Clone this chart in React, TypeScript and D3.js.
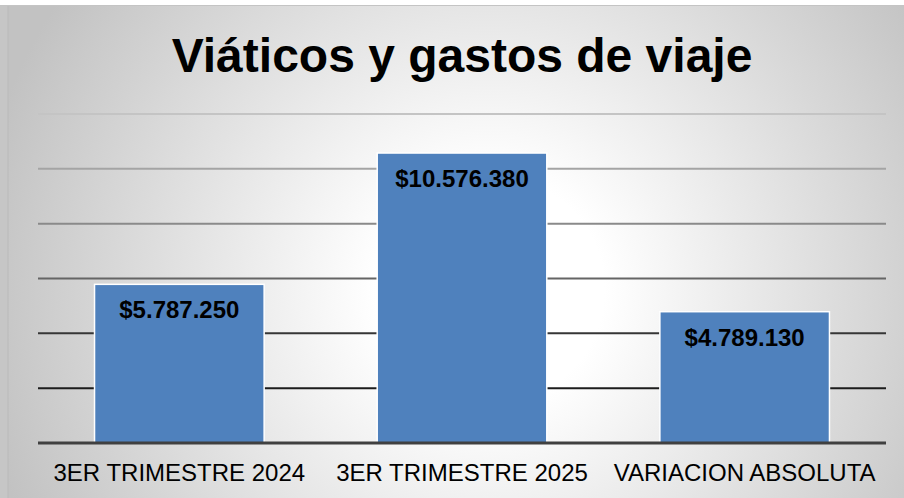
import React from "react";
import * as d3 from "d3";

// chart data
const categories = ["3ER TRIMESTRE 2024", "3ER TRIMESTRE 2025", "VARIACION ABSOLUTA"];
const values = [5787250, 10576380, 4789130];
const valueLabels = ["$5.787.250", "$10.576.380", "$4.789.130"];
const gridTicks = [2000000, 4000000, 6000000, 8000000, 10000000, 12000000];
const gridColors = ["#1c1c1c", "#363636", "#656565", "#8a8a8a", "#a4a4a4", "#c4c4c4"];

const W = 904;
const H = 498;
const plot = { left: 38, right: 886, top: 114, bottom: 443 };

export default function App() {
  const x = d3
    .scaleBand<string>()
    .domain(categories)
    .range([plot.left, plot.right])
    .paddingInner(0.4)
    .paddingOuter(0.2);
  const y = d3.scaleLinear().domain([0, 12000000]).range([plot.bottom, plot.top]);

  return (
    <svg
      width={W}
      height={H}
      style={{ position: "absolute", left: 0, top: 0, display: "block" }}
      fontFamily="'Liberation Sans', Arial, sans-serif"
    >
      <defs>
        <radialGradient id="bg" gradientUnits="userSpaceOnUse" cx={490} cy={290} r={520}>
          <stop offset="0" stopColor="#ffffff" />
          <stop offset="0.22" stopColor="#ffffff" />
          <stop offset="1" stopColor="#c2c2c2" />
        </radialGradient>
      </defs>
      <rect x={0} y={0} width={W} height={H} fill="#ffffff" />
      <rect x={0} y={5} width={W} height={H - 5} fill="url(#bg)" />
      <rect x={0} y={5} width={8} height={H - 5} fill="#c6c6c6" />
      <line x1={8} x2={8} y1={5} y2={H} stroke="#bababa" strokeWidth={1} />
      <line x1={0} x2={W} y1={5.5} y2={5.5} stroke="#c4c4c4" strokeWidth={1} />

      <text x={462} y={72} textAnchor="middle" fontSize={48} fontWeight="bold" fill="#000">
        Viáticos y gastos de viaje
      </text>

      {gridTicks.map((t, i) => (
        <line
          key={t}
          x1={plot.left}
          x2={plot.right}
          y1={y(t)}
          y2={y(t)}
          stroke={gridColors[i]}
          strokeWidth={2}
        />
      ))}

      {categories.map((c, i) => (
        <rect
          key={c}
          x={x(c)}
          y={y(values[i])}
          width={x.bandwidth()}
          height={y(0) - y(values[i])}
          fill="#4f81bd"
          stroke="#ffffff"
          strokeWidth={1.5}
        />
      ))}

      <line x1={plot.left} x2={plot.right} y1={y(0)} y2={y(0)} stroke="#404040" strokeWidth={3} />

      {categories.map((c, i) => (
        <text
          key={c}
          x={(x(c) as number) + x.bandwidth() / 2}
          y={y(values[i]) + 34}
          textAnchor="middle"
          fontSize={24}
          fontWeight="bold"
          fill="#000"
        >
          {valueLabels[i]}
        </text>
      ))}

      {categories.map((c) => (
        <text
          key={c}
          x={(x(c) as number) + x.bandwidth() / 2}
          y={481}
          textAnchor="middle"
          fontSize={24}
          fill="#000"
        >
          {c}
        </text>
      ))}
    </svg>
  );
}
